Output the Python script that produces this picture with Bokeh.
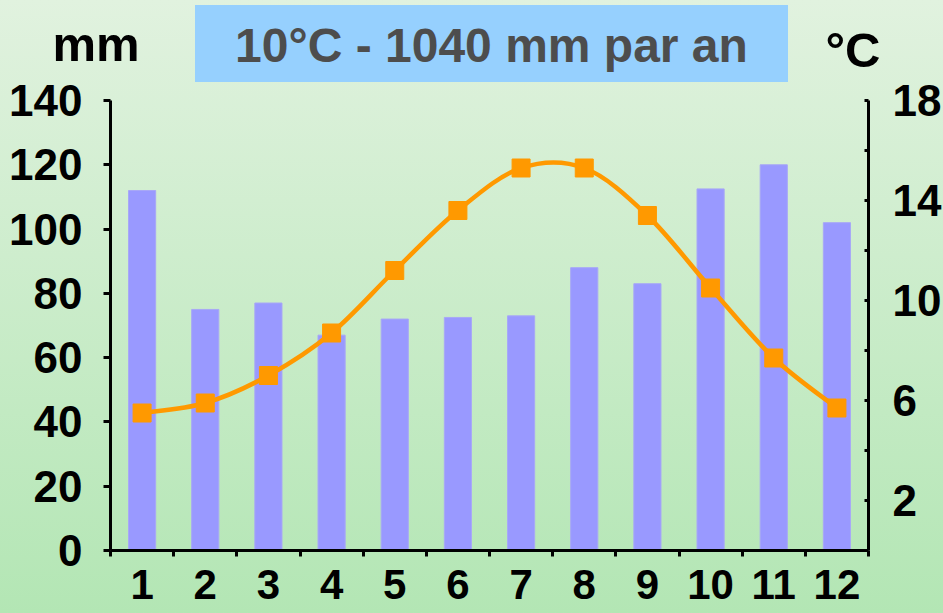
from bokeh.plotting import figure
from bokeh.layouts import column
from bokeh.models import Range1d, LinearAxis, FixedTicker, Div, GlobalInlineStyleSheet
from bokeh.embed import file_html
from bokeh.resources import INLINE

# ---- data ----
months = [1, 2, 3, 4, 5, 6, 7, 8, 9, 10, 11, 12]
month_labels = ["1", "2", "3", "4", "5", "6", "7", "8", "9", "10", "11", "12"]
precip_mm = [112, 75, 77, 67, 72, 72.5, 73, 88, 83, 112.5, 120, 102]
temp_c = [5.5, 5.9, 7.0, 8.7, 11.2, 13.6, 15.3, 15.3, 13.4, 10.5, 7.7, 5.7]
mm_ticks = [0, 20, 40, 60, 80, 100, 120, 140]
temp_ticks = [2, 6, 10, 14, 18]
temp_minor_ticks = [4, 8, 12, 16]
title_text = "10°C - 1040 mm par an"
left_title = "mm"
right_title = "°C"

FONT = "Liberation Sans"
BAR = "#9999FF"
ORANGE = "#FF9900"
TICK_FS = "44px"
TOP_H = 70          # height of the header strip
HEADER_DRAW_H = 84  # header content extends below the strip (transparent overlap)

css = GlobalInlineStyleSheet(css="""
html, body { margin:0; padding:0; overflow:hidden; height:100%;
  background: linear-gradient(to bottom, #E1F2DF 0%, #B3E6B4 100%); }
""")

# ---- header strip (titles) ----
header_html = f"""
<div style="position:relative;width:943px;height:{HEADER_DRAW_H}px;font-family:'{FONT}';font-weight:bold;">
  <div style="position:absolute;left:195px;top:5px;width:593px;height:77px;background:#96D0FE;
              color:#4D4D4D;font-size:48px;line-height:77px;text-align:center;white-space:nowrap;">
    <span style="position:relative;top:2px;">{title_text}</span></div>
  <div style="position:absolute;left:36px;top:20px;width:120px;font-size:49px;line-height:49px;
              text-align:center;color:black;">{left_title}</div>
  <div style="position:absolute;left:793px;top:26px;width:120px;font-size:49px;line-height:49px;
              text-align:center;color:black;">{right_title}</div>
</div>
"""
header = Div(text=header_html, width=943, height=TOP_H, margin=0,
             styles={"overflow": "visible", "z-index": "0"})

# ---- main chart ----
p = figure(frame_width=758, frame_height=450, x_range=Range1d(0.5, 12.5), y_range=Range1d(0, 140),
           output_backend="svg", toolbar_location=None,
           min_border_left=110, min_border_right=75, min_border_top=100 - TOP_H,
           min_border_bottom=63)
p.stylesheets = [css]
p.background_fill_color = None
p.border_fill_color = None
p.outline_line_color = None
p.xgrid.visible = False
p.ygrid.visible = False

p.extra_y_ranges = {"temp": Range1d(0, 18)}

# x axis
xa = p.xaxis[0]
xa.ticker = FixedTicker(ticks=months, minor_ticks=[m - 0.5 for m in months] + [12.5])
xa.major_label_overrides = {m: lab for m, lab in zip(months, month_labels)}
xa.major_tick_in = 0
xa.major_tick_out = 0
xa.minor_tick_in = 0
xa.minor_tick_out = 6
xa.minor_tick_line_width = 3
xa.minor_tick_line_color = "black"
xa.axis_line_width = 3
xa.axis_line_color = "black"
xa.major_label_text_font = FONT
xa.major_label_text_font_style = "bold"
xa.major_label_text_font_size = "42px"
xa.major_label_text_color = "black"
xa.major_label_standoff = 13

# left axis
ya = p.yaxis[0]
ya.ticker = FixedTicker(ticks=mm_ticks, minor_ticks=[])
ya.major_tick_in = 0
ya.major_tick_out = 7
ya.major_tick_line_width = 3
ya.major_tick_line_color = "black"
ya.axis_line_width = 3
ya.axis_line_color = "black"
ya.major_label_text_font = FONT
ya.major_label_text_font_style = "bold"
ya.major_label_text_font_size = TICK_FS
ya.major_label_text_color = "black"
ya.major_label_standoff = 21

# right axis
ra = LinearAxis(y_range_name="temp", ticker=FixedTicker(ticks=temp_ticks, minor_ticks=temp_minor_ticks))
ra.major_tick_in = 4
ra.major_tick_out = 0
ra.minor_tick_in = 4
ra.minor_tick_out = 0
ra.major_tick_line_width = 3
ra.minor_tick_line_width = 3
ra.major_tick_line_color = "black"
ra.minor_tick_line_color = "black"
ra.axis_line_width = 3
ra.axis_line_color = "black"
ra.major_label_text_font = FONT
ra.major_label_text_font_style = "bold"
ra.major_label_text_font_size = TICK_FS
ra.major_label_text_color = "black"
ra.major_label_standoff = 24
p.add_layout(ra, "right")

# bars
p.vbar(x=months, top=precip_mm, bottom=0, width=0.43, fill_color=BAR,
       line_color="#A8A8F6", line_width=1)

# smoothed temperature line (Catmull-Rom -> cubic Bezier through the data points)
n = len(months)
x0, y0, x1, y1, cx0, cy0, cx1, cy1 = ([] for _ in range(8))
for i in range(n - 1):
    pm = i - 1 if i > 0 else i
    pp = i + 2 if i + 2 < n else i + 1
    x0.append(months[i]); y0.append(temp_c[i])
    x1.append(months[i + 1]); y1.append(temp_c[i + 1])
    cx0.append(months[i] + (months[i + 1] - months[pm]) / 6)
    cy0.append(temp_c[i] + (temp_c[i + 1] - temp_c[pm]) / 6)
    cx1.append(months[i + 1] - (months[pp] - months[i]) / 6)
    cy1.append(temp_c[i + 1] - (temp_c[pp] - temp_c[i]) / 6)
p.bezier(x0=x0, y0=y0, x1=x1, y1=y1, cx0=cx0, cy0=cy0, cx1=cx1, cy1=cy1,
         line_color=ORANGE, line_width=4.5, y_range_name="temp")
p.scatter(x=months, y=temp_c, marker="square", size=18, fill_color=ORANGE,
          line_color=ORANGE, y_range_name="temp")

layout = column(header, p, spacing=0)
open("out.html", "w").write(file_html(layout, INLINE))
